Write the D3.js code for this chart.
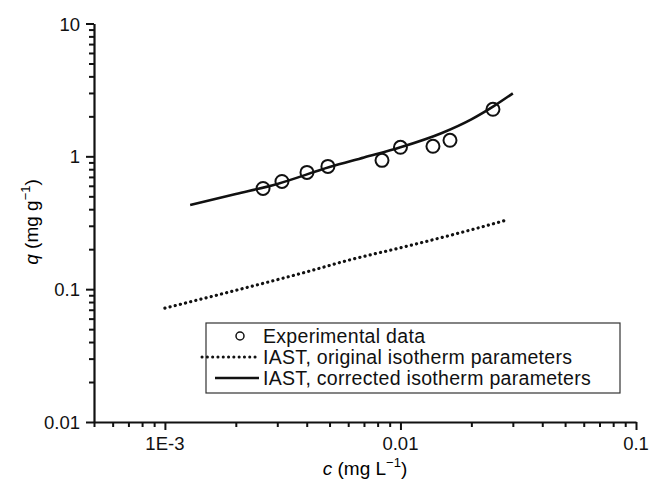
<!DOCTYPE html>
<html>
<head>
<meta charset="utf-8">
<script src="https://cdn.jsdelivr.net/npm/d3@7"></script>
<style>
  body { margin: 0; background: #fff; }
  svg { font-family: "Liberation Sans", Arial, sans-serif; }
  .tick-label { font-size: 18.5px; fill: #111; }
  .legend-text { font-size: 19.5px; fill: #111; letter-spacing: 0.3px; }
</style>
</head>
<body>
<svg id="chart" width="649" height="492"></svg>
<script>
//////////////////////////////////////////////////////////////////////////////
// Data
//////////////////////////////////////////////////////////////////////////////

// experimental points
var exp_c = [0.00261, 0.00314, 0.00401, 0.00492, 0.00835, 0.0100, 0.01374, 0.01623, 0.0247]
var exp_q = [0.573, 0.647, 0.757, 0.840, 0.933, 1.17, 1.19, 1.32, 2.26]

// IAST, original isotherm parameters (dotted)
var orig_c = [0.001, 0.002, 0.004, 0.006, 0.010, 0.015, 0.020, 0.028]
var orig_q = [0.072, 0.098, 0.135, 0.165, 0.205, 0.245, 0.280, 0.330]

// IAST, corrected isotherm parameters (solid)
var corr_c = [0.00128, 0.002, 0.003, 0.005, 0.007, 0.010, 0.015, 0.020, 0.025, 0.030]
var corr_q = [0.43, 0.52, 0.62, 0.83, 0.98, 1.17, 1.5, 1.9, 2.4, 2.98]

var x_ticks = [0.001, 0.01, 0.1]
var x_tick_labels = ['1E-3', '0.01', '0.1']
var y_ticks = [0.01, 0.1, 1, 10]
var y_tick_labels = ['0.01', '0.1', '1', '10']

var legend_labels = ['Experimental data', 'IAST, original isotherm parameters', 'IAST, corrected isotherm parameters']

//////////////////////////////////////////////////////////////////////////////
// Scales
//////////////////////////////////////////////////////////////////////////////

var svg = d3.select('#chart')

var x = d3.scaleLog().domain([5e-4, 0.1]).range([94, 636])
var y = d3.scaleLog().domain([0.01, 10]).range([422, 23.5])

function minor_ticks(lo, hi) {
  var out = []
  for (var e = -5; e <= 2; e++) {
    for (var m = 1; m <= 9; m++) {
      var v = m * Math.pow(10, e)
      if (v >= lo * 0.999 && v <= hi * 1.001) out.push(v)
    }
  }
  return out
}

//////////////////////////////////////////////////////////////////////////////
// Axes
//////////////////////////////////////////////////////////////////////////////

var is_major = function(v) { return Math.abs(Math.log10(v) - Math.round(Math.log10(v))) < 1e-6 }

// x axis
var gx = svg.append('g').attr('transform', 'translate(0,' + y(0.01) + ')')
gx.call(d3.axisBottom(x).tickValues(minor_ticks(5e-4, 0.1)).tickFormat('').tickSizeOuter(0))
gx.select('.domain').attr('stroke', '#111').attr('stroke-width', 2.2)
gx.selectAll('.tick line').attr('stroke', '#111').attr('stroke-width', 2)
  .attr('y2', function(d) { return is_major(d) ? 8 : 5 })

gx.selectAll('.xlab')
  .data(x_ticks)
  .enter().append('text')
  .attr('class', 'tick-label')
  .attr('x', function(d) { return x(d) })
  .attr('y', 28)
  .attr('text-anchor', 'middle')
  .text(function(d, i) { return x_tick_labels[i] })

// y axis
var gy = svg.append('g').attr('transform', 'translate(' + x(5e-4) + ',0)')
gy.call(d3.axisLeft(y).tickValues(minor_ticks(0.01, 10)).tickFormat('').tickSizeOuter(0))
gy.select('.domain').attr('stroke', '#111').attr('stroke-width', 2.2)
gy.selectAll('.tick line').attr('stroke', '#111').attr('stroke-width', 2)
  .attr('x2', function(d) { return is_major(d) ? -8 : -5 })

gy.selectAll('.ylab')
  .data(y_ticks)
  .enter().append('text')
  .attr('class', 'tick-label')
  .attr('x', -14)
  .attr('y', function(d) { return y(d) + 7 })
  .attr('text-anchor', 'end')
  .text(function(d, i) { return y_tick_labels[i] })

// axis titles
var xt = svg.append('text')
  .attr('x', 365).attr('y', 475)
  .attr('text-anchor', 'middle')
  .style('font-size', '19px')
xt.append('tspan').attr('font-style', 'italic').text('c')
xt.append('tspan').text(' (mg L')
xt.append('tspan').attr('dy', -8).style('font-size', '13px').text('\u22121')
xt.append('tspan').attr('dy', 8).text(')')

var yt = svg.append('text')
  .attr('transform', 'translate(38,222) rotate(-90)')
  .attr('text-anchor', 'middle')
  .style('font-size', '19px')
yt.append('tspan').attr('font-style', 'italic').text('q')
yt.append('tspan').text(' (mg g')
yt.append('tspan').attr('dy', -8).style('font-size', '13px').text('\u22121')
yt.append('tspan').attr('dy', 8).text(')')

//////////////////////////////////////////////////////////////////////////////
// Lines and points
//////////////////////////////////////////////////////////////////////////////

var line = d3.line()
  .x(function(d) { return x(d[0]) })
  .y(function(d) { return y(d[1]) })
  .curve(d3.curveMonotoneX)

svg.append('path')
  .datum(d3.zip(orig_c, orig_q))
  .attr('d', line)
  .attr('fill', 'none')
  .attr('stroke', '#111')
  .attr('stroke-width', 3.2)
  .attr('stroke-linecap', 'round')
  .attr('stroke-dasharray', '0.1 5.2')

svg.append('path')
  .datum(d3.zip(corr_c, corr_q))
  .attr('d', line)
  .attr('fill', 'none')
  .attr('stroke', '#111')
  .attr('stroke-width', 2.6)

svg.selectAll('.pt')
  .data(d3.zip(exp_c, exp_q))
  .enter().append('circle')
  .attr('class', 'pt')
  .attr('cx', function(d) { return x(d[0]) })
  .attr('cy', function(d) { return y(d[1]) })
  .attr('r', 6.5)
  .attr('fill', 'none')
  .attr('stroke', '#111')
  .attr('stroke-width', 2)

//////////////////////////////////////////////////////////////////////////////
// Legend
//////////////////////////////////////////////////////////////////////////////

var lg = svg.append('g').attr('transform', 'translate(206,323)')
lg.append('rect')
  .attr('width', 414).attr('height', 70)
  .attr('fill', '#fff').attr('stroke', '#333').attr('stroke-width', 1.2)

lg.append('circle')
  .attr('cx', 34).attr('cy', 13).attr('r', 4)
  .attr('fill', 'none').attr('stroke', '#111').attr('stroke-width', 1.5)

lg.append('line')
  .attr('x1', -4).attr('x2', 50).attr('y1', 34).attr('y2', 34)
  .attr('stroke', '#111').attr('stroke-width', 3)
  .attr('stroke-linecap', 'round').attr('stroke-dasharray', '0.1 5.2')

lg.append('line')
  .attr('x1', 9).attr('x2', 53).attr('y1', 55).attr('y2', 55)
  .attr('stroke', '#111').attr('stroke-width', 2.4)

lg.selectAll('.legend-text')
  .data(legend_labels)
  .enter().append('text')
  .attr('class', 'legend-text')
  .attr('x', 57)
  .attr('y', function(d, i) { return 20 + i * 21 })
  .text(function(d) { return d })
</script>
</body>
</html>
